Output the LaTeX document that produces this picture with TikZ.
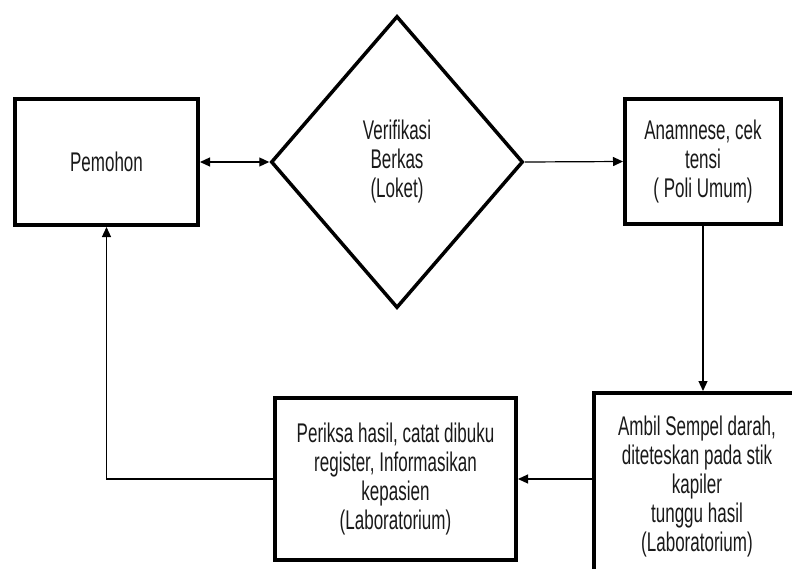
\documentclass[tikz,border=0pt]{standalone}
\usepackage{fontspec}
\newfontfamily\diafont[FakeStretch=0.63]{Liberation Sans}
\usetikzlibrary{shapes.geometric,arrows.meta}
\tikzset{
  box/.style={draw=black, line width=4pt, align=center, inner sep=0pt},
  dia/.style={draw=black, line width=3.5pt, diamond, align=center, inner sep=0pt},
  conn/.style={draw=black, line width=1.2pt},
  tip/.style={-{Triangle[length=10pt,width=9pt]}},
  every node/.style={font=\diafont\fontsize{27}{29}\selectfont, text=black!90}
}
\begin{document}
\begin{tikzpicture}[x=1pt,y=-1pt]
\useasboundingbox (0,0) rectangle (792,568);
\clip (0,0) rectangle (792,568);
\node[box, minimum width=183pt, minimum height=126pt] (pem) at (106.5,162) {Pemohon};
\node[dia, minimum width=252pt, minimum height=292pt] (ver) at (397,162) {Verifikasi\\Berkas\\(Loket)};
\node[box, minimum width=156pt, minimum height=125pt] (ana) at (703,161.5) {Anamnese, cek\\tensi\\( Poli Umum)};
\node[box, minimum width=206pt, minimum height=188pt] (amb) at (697,487) {Ambil Sempel darah,\\diteteskan pada stik\\kapiler\\tunggu hasil\\(Laboratorium)};
\node[box, minimum width=241pt, minimum height=162pt] (per) at (395.5,479) {Periksa hasil, catat dibuku\\register, Informasikan\\kepasien\\(Laboratorium)};
\draw[conn, {Triangle[length=10pt,width=9pt]}-{Triangle[length=10pt,width=9pt]}] (pem.east) -- (ver.west);
\draw[conn, tip] (ver.east) -- (ana.west);
\draw[conn, tip] (ana.south) -- (ana.south |- amb.north);
\draw[conn, tip] (amb.west |- per.east) -- (per.east);
\draw[conn, tip] (per.west) -| (pem.south);
\end{tikzpicture}
\end{document}
